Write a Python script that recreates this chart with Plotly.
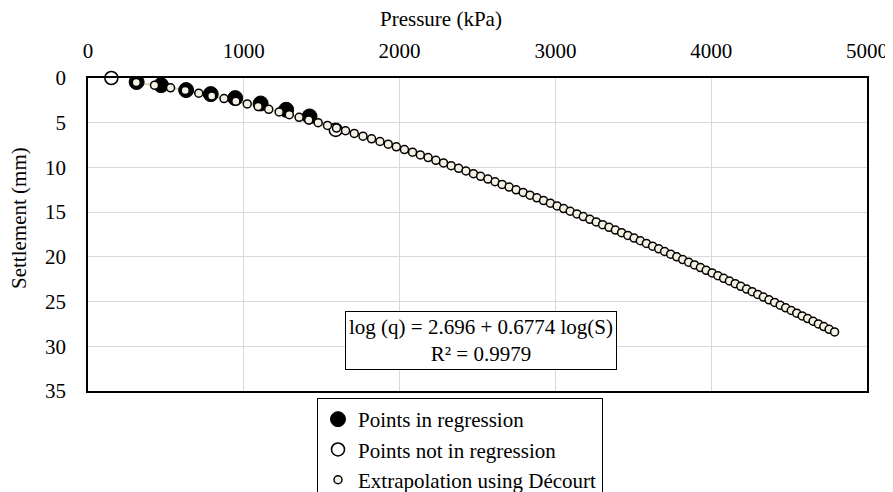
import plotly.graph_objects as go

# Points used in the regression (pressure kPa, settlement mm)
reg_q = [312, 469, 630, 788, 945, 1108, 1272, 1422]
reg_s = [0.45, 0.80, 1.35, 1.80, 2.25, 2.85, 3.55, 4.30]

# Points not in the regression
nreg_q = [150, 1590]
nreg_s = [0.0, 5.8]

# Extrapolation using Décourt
ext_s = [0.5, 0.8, 1.1, 1.4, 1.7, 2.0, 2.3, 2.6, 2.9, 3.2, 3.5, 3.8, 4.1, 4.4, 4.7,
         5.0, 5.3, 5.6, 5.9, 6.2, 6.5, 6.8, 7.1, 7.4, 7.7, 8.0, 8.3, 8.6, 8.9, 9.2,
         9.5, 9.8, 10.1, 10.4, 10.7, 11.0, 11.3, 11.6, 11.9, 12.2, 12.5, 12.8, 13.1,
         13.4, 13.7, 14.0, 14.3, 14.6, 14.9, 15.2, 15.5, 15.8, 16.1, 16.4, 16.7, 17.0,
         17.3, 17.6, 17.9, 18.2, 18.5, 18.8, 19.1, 19.4, 19.7, 20.0, 20.3, 20.6, 20.9,
         21.2, 21.5, 21.8, 22.1, 22.4, 22.7, 23.0, 23.3, 23.6, 23.9, 24.2, 24.5, 24.8,
         25.1, 25.4, 25.7, 26.0, 26.3, 26.6, 26.9, 27.2, 27.5, 27.8, 28.1, 28.4]
ext_q = [310, 427, 530, 624, 711, 794, 873, 949, 1022, 1092, 1160, 1227, 1292, 1355,
         1417, 1477, 1537, 1595, 1653, 1709, 1765, 1820, 1874, 1927, 1979, 2031, 2083,
         2133, 2183, 2233, 2282, 2331, 2379, 2426, 2474, 2520, 2567, 2613, 2658, 2703,
         2748, 2793, 2837, 2881, 2924, 2968, 3011, 3053, 3095, 3138, 3179, 3221, 3262,
         3303, 3344, 3385, 3425, 3465, 3505, 3545, 3584, 3624, 3663, 3701, 3740, 3779,
         3817, 3855, 3893, 3931, 3968, 4006, 4043, 4080, 4117, 4154, 4190, 4227, 4263,
         4299, 4335, 4371, 4407, 4443, 4478, 4514, 4549, 4584, 4619, 4654, 4688, 4723,
         4757, 4792]

x_ticks = [0, 1000, 2000, 3000, 4000, 5000]
y_ticks = [0, 5, 10, 15, 20, 25, 30, 35]

x_title = "Pressure (kPa)"
y_title = "Settlement (mm)"
equation_text = "log (q) = 2.696 + 0.6774 log(S)<br>R² = 0.9979"

FONT = "Liberation Serif"
OFF = 8                      # page body margin of the html page
W, H = 893 - OFF, 492 - OFF
# plot area in page pixels: left 88, right 867, top 78, bottom 391
ML, MR, MT, MB = 88 - OFF, W - (867 - OFF), 78 - OFF, H - (391 - OFF)
PW, PH = W - ML - MR, H - MT - MB


def px_x(p):
    return (p - OFF - ML) / PW


def px_y(p):
    return (H - MB - (p - OFF)) / PH


fig = go.Figure()

# line behind the extrapolation markers
fig.add_trace(go.Scatter(
    x=ext_q, y=ext_s, mode="lines",
    line=dict(color="#d8d3bd", width=2),
    showlegend=False, hoverinfo="skip"))

fig.add_trace(go.Scatter(
    x=reg_q, y=reg_s, mode="markers", name="Points in regression",
    marker=dict(symbol="circle", size=15, color="black",
                line=dict(color="black", width=1))))

fig.add_trace(go.Scatter(
    x=nreg_q, y=nreg_s, mode="markers", name="Points not in regression",
    cliponaxis=False,
    marker=dict(symbol="circle", size=13, color="white",
                line=dict(color="black", width=1.6))))

fig.add_trace(go.Scatter(
    x=ext_q, y=ext_s, mode="markers", name="Extrapolation using Décourt",
    marker=dict(symbol="circle", size=8, color="#f4f1e4",
                line=dict(color="black", width=1.5))))

fig.add_annotation(
    x=2520, y=29.3, xref="x", yref="y", text=equation_text,
    showarrow=False, align="center",
    font=dict(family=FONT, size=21, color="black"),
    bordercolor="black", borderwidth=1, borderpad=3, bgcolor="white")

fig.add_annotation(
    x=px_x(19), y=px_y(218), xref="paper", yref="paper", text=y_title,
    xanchor="center", yanchor="middle",
    showarrow=False, textangle=-90,
    font=dict(family=FONT, size=21, color="black"))

fig.add_annotation(
    x=px_x(441), y=px_y(19), xref="paper", yref="paper", text=x_title,
    xanchor="center", yanchor="middle", showarrow=False,
    font=dict(family=FONT, size=21, color="black"))

fig.update_layout(
    width=W, height=H,
    margin=dict(l=ML, r=MR, t=MT, b=MB, autoexpand=False),
    paper_bgcolor="white", plot_bgcolor="white",
    font=dict(family=FONT, size=21, color="black"),
    xaxis=dict(
        side="top", range=[0, 5000], tickvals=x_ticks,
        tickfont=dict(family=FONT, size=21, color="black"),
        showgrid=True, gridcolor="#d9d9d9", gridwidth=1,
        showline=True, linecolor="black", linewidth=1.5, mirror=True,
        zeroline=False, ticks="", ticklabelstandoff=10, automargin=False),
    yaxis=dict(
        range=[35, 0], tickvals=y_ticks,
        tickfont=dict(family=FONT, size=21, color="black"),
        showgrid=True, gridcolor="#d9d9d9", gridwidth=1,
        showline=True, linecolor="black", linewidth=1.5, mirror=True,
        zeroline=False, ticks="", ticklabelstandoff=16, automargin=False),
    legend=dict(
        x=px_x(317), y=px_y(398), xanchor="left", yanchor="top",
        bgcolor="white", bordercolor="black", borderwidth=1,
        font=dict(family=FONT, size=21, color="black"),
        tracegroupgap=0),
    showlegend=True,
)

fig.write_html("out.html")
